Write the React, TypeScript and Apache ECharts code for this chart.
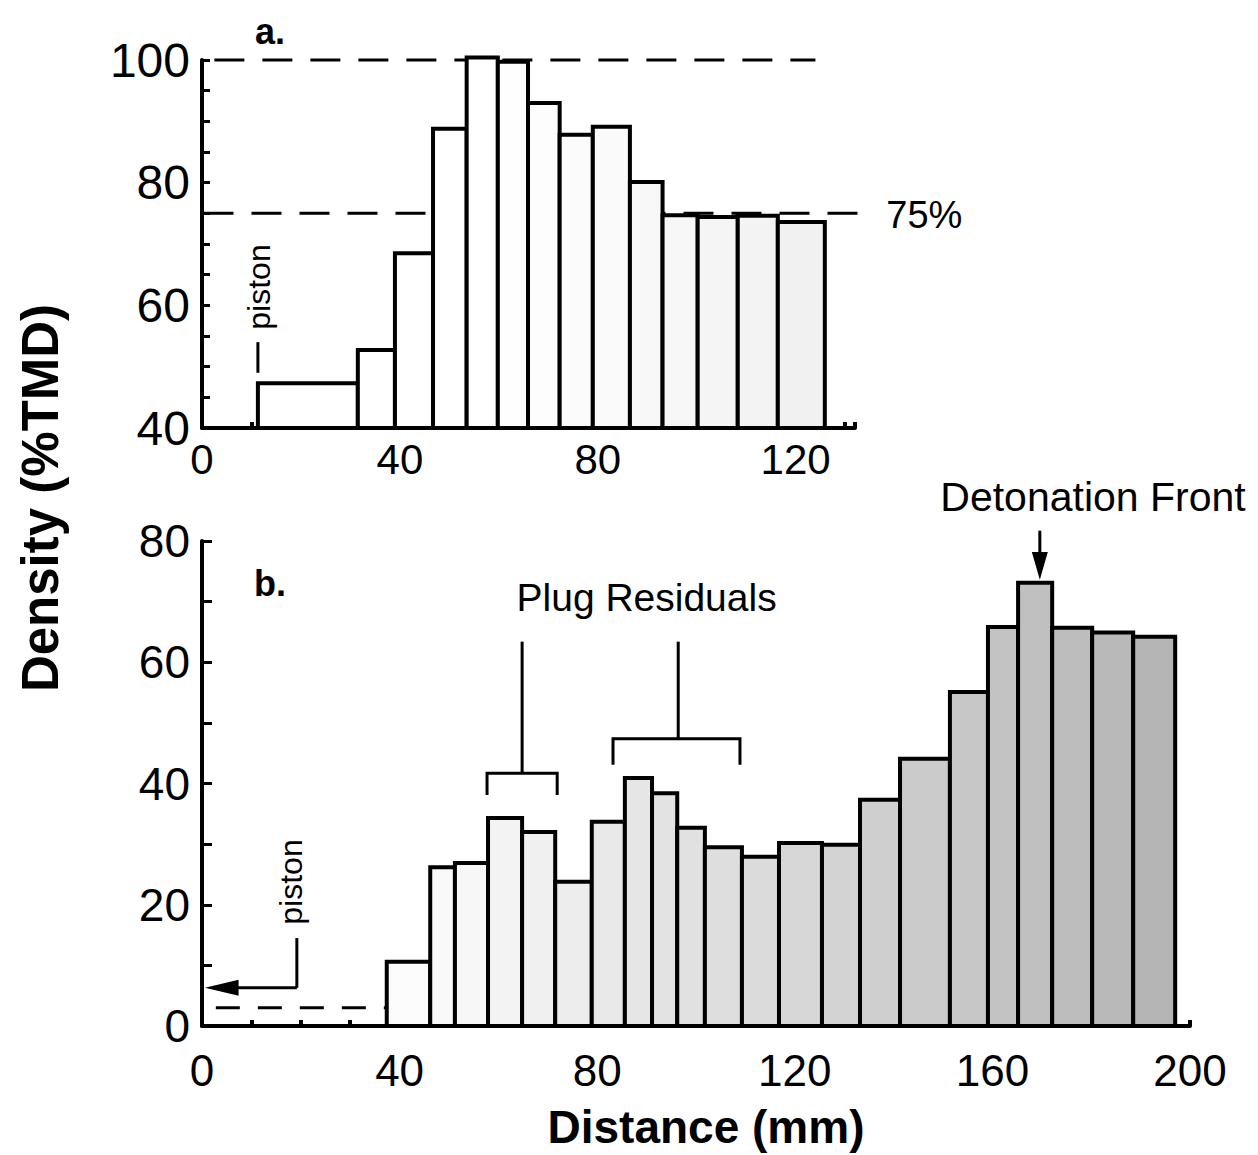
import React, { useEffect, useRef } from "react";
import * as echarts from "echarts";

// ---------- Panel a: density profile (bins in mm, density in %TMD) ----------
const aBinStart = [11.3, 31.5, 39.0, 46.7, 53.5, 59.8, 65.9, 72.3, 79.0, 86.5, 93.1, 100.2, 108.3, 116.4];
const aBinEnd = [31.5, 39.0, 46.7, 53.5, 59.8, 65.9, 72.3, 79.0, 86.5, 93.1, 100.2, 108.3, 116.4, 125.9];
const aDensity = [47.3, 52.7, 68.5, 88.8, 100.4, 99.7, 93.0, 87.8, 89.1, 80.1, 74.7, 74.4, 74.6, 73.6];
const aXTicks = [0, 40, 80, 120];
const aYTicks = [40, 60, 80, 100];
const aRefLevels = [100, 75];

// ---------- Panel b ----------
const bBinStart = [37.4, 46.2, 51.2, 57.9, 64.8, 71.5, 78.9, 85.6, 91.1, 96.2, 101.8, 109.3, 116.8, 125.5, 133.2, 141.3, 151.4, 159.1, 165.2, 172.1, 180.2, 188.5];
const bBinEnd = [46.2, 51.2, 57.9, 64.8, 71.5, 78.9, 85.6, 91.1, 96.2, 101.8, 109.3, 116.8, 125.5, 133.2, 141.3, 151.4, 159.1, 165.2, 172.1, 180.2, 188.5, 197.0];
const bDensity = [10.6, 26.2, 26.9, 34.3, 32.0, 23.8, 33.7, 40.9, 38.4, 32.7, 29.5, 27.9, 30.2, 29.9, 37.3, 44.1, 55.1, 65.8, 73.1, 65.7, 64.9, 64.2];
const bXTicks = [0, 40, 80, 120, 160, 200];
const bYTicks = [0, 20, 40, 60, 80];
const bPistonLevel = 3;

const FONT = "'Liberation Sans', Arial, Helvetica, sans-serif";

const makeRender = (base: number, shade: (mm: number) => number) =>
  (params: any, api: any) => {
    const x0 = api.value(0);
    const x1 = api.value(1);
    const v = api.value(2);
    const p0 = api.coord([x0, v]);
    const p1 = api.coord([x1, base]);
    const g = Math.round(shade(x0));
    return {
      type: "rect",
      shape: { x: p0[0], y: p0[1], width: p1[0] - p0[0], height: p1[1] - p0[1] },
      style: { fill: `rgb(${g},${g},${g})`, stroke: "#000", lineWidth: 4 },
    };
  };

export default function App() {
  const ref = useRef<HTMLDivElement>(null);
  useEffect(() => {
    const chart = echarts.init(ref.current!, null, { renderer: "svg" });
    const axisLine = { show: true, lineStyle: { color: "#000", width: 4 } };
    const tickFmt = (list: number[]) => (v: number) => (list.includes(v) ? String(v) : "");
    const option: any = {
      animation: false,
      backgroundColor: "#fff",
      grid: [
        { left: 202, top: 60, width: 653, height: 368 },
        { left: 202, top: 541, width: 988, height: 485 },
      ],
      xAxis: [
        {
          type: "value", gridIndex: 0, min: 0, max: 132, interval: 40,
          axisLine, splitLine: { show: false },
          axisTick: { show: true, inside: true, length: 6, lineStyle: { color: "#000", width: 4 } },
          minorTick: { show: true, splitNumber: 4, length: 6, lineStyle: { color: "#000", width: 4 } },
          axisLabel: { formatter: tickFmt(aXTicks), showMaxLabel: false, margin: 10, color: "#000", fontSize: 42, fontFamily: "'Liberation Sans Narrow', " + FONT },
        },
        {
          type: "value", gridIndex: 1, min: 0, max: 200, interval: 40,
          axisLine, splitLine: { show: false },
          axisTick: { show: true, inside: true, length: 6, lineStyle: { color: "#000", width: 4 } },
          minorTick: { show: true, splitNumber: 4, length: 6, lineStyle: { color: "#000", width: 4 } },
          axisLabel: { formatter: tickFmt(bXTicks), margin: 22, color: "#000", fontSize: 44, fontFamily: FONT },
        },
      ],
      yAxis: [
        {
          type: "value", gridIndex: 0, min: 40, max: 100, interval: 20,
          axisLine, splitLine: { show: false },
          axisTick: { show: true, inside: true, length: 8, lineStyle: { color: "#000", width: 3 } },
          minorTick: { show: true, splitNumber: 4, length: 8, lineStyle: { color: "#000", width: 3 } },
          axisLabel: { formatter: tickFmt(aYTicks), margin: 12, color: "#000", fontSize: 48, fontFamily: FONT },
        },
        {
          type: "value", gridIndex: 1, min: 0, max: 80, interval: 20,
          axisLine, splitLine: { show: false },
          axisTick: { show: true, inside: true, length: 10, lineStyle: { color: "#000", width: 3 } },
          minorTick: { show: true, splitNumber: 2, length: 10, lineStyle: { color: "#000", width: 3 } },
          axisLabel: { formatter: tickFmt(bYTicks), margin: 12, color: "#000", fontSize: 46, fontFamily: FONT },
        },
      ],
      series: [
        {
          type: "custom", xAxisIndex: 0, yAxisIndex: 0, z: 5,
          renderItem: makeRender(40, (mm) => 255 - Math.max(0, mm - 55) * 0.22),
          encode: { x: [0, 1], y: 2 },
          data: aBinStart.map((s, i) => [s, aBinEnd[i], aDensity[i]]),
        },
        {
          type: "custom", xAxisIndex: 1, yAxisIndex: 1, z: 5,
          renderItem: makeRender(0, (mm) => 252 - Math.max(0, mm - 40) * 0.48),
          encode: { x: [0, 1], y: 2 },
          data: bBinStart.map((s, i) => [s, bBinEnd[i], bDensity[i]]),
        },
      ],
    };
    chart.setOption(option);

    const A = (x: number, y: number) => chart.convertToPixel({ xAxisIndex: 0, yAxisIndex: 0 }, [x, y]) as number[];
    const B = (x: number, y: number) => chart.convertToPixel({ xAxisIndex: 1, yAxisIndex: 1 }, [x, y]) as number[];
    const line = (p: number[], q: number[], dash?: number[], z = 100, w = 3) => ({
      type: "line", z,
      shape: { x1: p[0], y1: p[1], x2: q[0], y2: q[1] },
      style: { stroke: "#000", lineWidth: w, lineDash: dash },
    });
    const text = (t: string, p: number[], font: string, opts: any = {}) => ({
      type: "text", z: 100, x: p[0], y: p[1], rotation: opts.rotation || 0,
      style: {
        text: t, font, fill: "#000",
        align: opts.align || "center", verticalAlign: "middle",
        textAlign: opts.align || "center", textVerticalAlign: "middle",
      },
    });
    const poly = (pts: number[][]) => ({
      type: "polyline", z: 100, shape: { points: pts },
      style: { stroke: "#000", lineWidth: 3, fill: null },
    });
    const tri = (pts: number[][]) => ({ type: "polygon", z: 100, shape: { points: pts }, style: { fill: "#000" } });

    const dTop = A(2.5, aRefLevels[0]);
    const dTopEnd = A(124, aRefLevels[0]);
    const d75 = A(0.3, aRefLevels[1]);
    const d75End = A(135.5, aRefLevels[1]);

    const pistonA = A(11.3, 0);
    const bArrowV0 = B(19.2, 14.5);
    const bArrowV1 = B(19.2, 6.3);
    const bArrowH1 = B(7.0, 6.3);
    const bTip = B(0.6, 6.3);

    const graphic: any[] = [
      line(dTop, dTopEnd, [30, 18], 0),
      line(d75, d75End, [30, 18], 0),
      text("75%", [d75End[0] + 14, d75End[1] + 2], `38px ${FONT}`, { align: "left" }),
      text("a.", [270, 31], `bold 36px ${FONT}`),
      line([pistonA[0], A(0, 54)[1]], [pistonA[0], A(0, 49)[1]]),
      text("piston", [259, 287], `32px ${FONT}`, { rotation: Math.PI / 2 }),

      line(B(2.8, bPistonLevel), B(37.4, bPistonLevel), [24, 18], 0),
      line(bArrowV0, bArrowV1),
      line(bArrowV1, bArrowH1),
      tri([bTip, [bArrowH1[0] + 2, bArrowH1[1] - 8], [bArrowH1[0] + 2, bArrowH1[1] + 8]]),
      text("piston", [291, 882], `32px ${FONT}`, { rotation: Math.PI / 2 }),
      text("b.", [270, 583], `bold 36px ${FONT}`),

      poly([B(57.7, 38.1), B(57.7, 41.7), B(71.9, 41.7), B(71.9, 38.1)]),
      line(B(64.8, 41.7), B(64.8, 63.4)),
      poly([B(83.2, 43.1), B(83.2, 47.4), B(108.9, 47.4), B(108.9, 43.1)]),
      line(B(96.4, 47.4), B(96.4, 63.4)),
      text("Plug Residuals", B(90, 70.6), `39px ${FONT}`),

      text("Detonation Front", [1093, 497], `41px ${FONT}`),
      line(B(169.6, 81.7), B(169.6, 77)),
      tri([B(169.6, 73.6), [B(169.6, 0)[0] - 8, B(0, 78.2)[1]], [B(169.6, 0)[0] + 8, B(0, 78.2)[1]]]),

      text("Density (%TMD)", [40, 498], `bold 51px ${FONT}`, { rotation: Math.PI / 2 }),
      text("Distance (mm)", [706, 1127], `bold 46px ${FONT}`),
    ];
    chart.setOption({ graphic });
    return () => chart.dispose();
  }, []);
  return (
    <div
      ref={ref}
      style={{ position: "absolute", left: 0, top: 0, width: 1258, height: 1155, background: "#fff" }}
    />
  );
}
